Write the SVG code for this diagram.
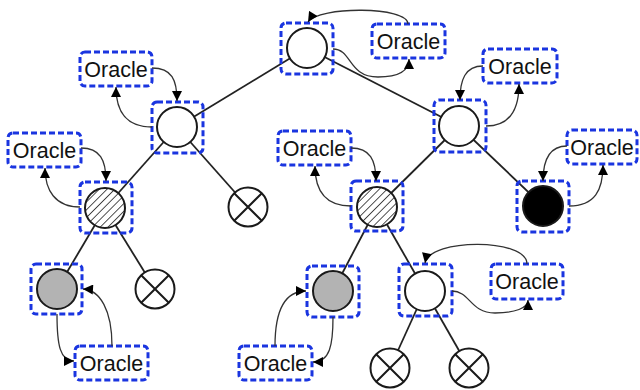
<svg xmlns="http://www.w3.org/2000/svg" width="640" height="390" viewBox="0 0 640 390">
<defs>
<style>
.edge{stroke:#222;stroke-width:1.8;fill:none}
.arc{stroke:#333;stroke-width:1.3;fill:none;marker-end:url(#ah)}
.box{fill:none;stroke:#1a35e0;stroke-width:3;stroke-dasharray:6 3}
.c{stroke:#1a1a1a;stroke-width:2;fill:#fff}
.x{stroke:#1a1a1a;stroke-width:2}
.gray{fill:#b3b3b3}
.black{fill:#000}
.hatch{fill:url(#hp)}
.lbl{font-family:"Liberation Sans",Arial,sans-serif;font-size:21.5px;fill:#111;text-anchor:middle}
</style>
<marker id="ah" viewBox="0 0 10 10" refX="10" refY="5" markerWidth="11" markerHeight="10" markerUnits="userSpaceOnUse" orient="auto">
<path d="M0,0 L10,5 L0,10 z" fill="#000"/>
</marker>
<pattern id="hp" patternUnits="userSpaceOnUse" width="5.5" height="5.5" patternTransform="rotate(45)">
<rect width="5.5" height="5.5" fill="#fff"/>
<line x1="0" y1="0" x2="0" y2="5.5" stroke="#333" stroke-width="1.7"/>
</pattern>
</defs>
<rect width="640" height="390" fill="#fff"/>

<g id="tree-edges">
<line class="edge" x1="307" y1="48" x2="177" y2="127"/>
<line class="edge" x1="307" y1="48" x2="459" y2="126"/>
<line class="edge" x1="177" y1="127" x2="105" y2="208"/>
<line class="edge" x1="177" y1="127" x2="248" y2="207"/>
<line class="edge" x1="105" y1="208" x2="57" y2="289"/>
<line class="edge" x1="105" y1="208" x2="155" y2="289"/>
<line class="edge" x1="459" y1="126" x2="377" y2="207"/>
<line class="edge" x1="459" y1="126" x2="543" y2="206"/>
<line class="edge" x1="377" y1="207" x2="333" y2="291"/>
<line class="edge" x1="377" y1="207" x2="425" y2="291"/>
<line class="edge" x1="425" y1="291" x2="390" y2="368"/>
<line class="edge" x1="425" y1="291" x2="469" y2="368"/>
</g>

<g id="n-root"><rect class="box" x="281" y="23" width="52" height="51" rx="5"/><circle class="c" cx="307" cy="48" r="20"/></g>
<g id="n-l1"><rect class="box" x="152" y="102" width="51" height="51" rx="5"/><circle class="c" cx="177" cy="127" r="20"/></g>
<g id="n-l1x"><circle class="c" cx="248" cy="207" r="19.5"/><path class="x" d="M234.2,193.2 L261.8,220.8 M261.8,193.2 L234.2,220.8"/></g>
<g id="n-l2h"><rect class="box" x="80" y="182" width="52" height="51" rx="5"/><circle class="c hatch" cx="105" cy="208" r="20"/></g>
<g id="n-l3g"><rect class="box" x="31" y="264" width="51" height="50" rx="5"/><circle class="c gray" cx="57" cy="289" r="20"/></g>
<g id="n-l3x"><circle class="c" cx="155" cy="289" r="19.5"/><path class="x" d="M141.2,275.2 L168.8,302.8 M168.8,275.2 L141.2,302.8"/></g>
<g id="n-r1"><rect class="box" x="434" y="100" width="52" height="52" rx="5"/><circle class="c" cx="459" cy="126" r="20"/></g>
<g id="n-r2b"><rect class="box" x="517" y="181" width="52" height="51" rx="5"/><circle class="c black" cx="543" cy="206" r="20"/></g>
<g id="n-m2h"><rect class="box" x="351" y="181" width="52" height="50" rx="5"/><circle class="c hatch" cx="377" cy="207" r="20"/></g>
<g id="n-m3g"><rect class="box" x="307" y="266" width="52" height="51" rx="5"/><circle class="c gray" cx="333" cy="291" r="20"/></g>
<g id="n-m3w"><rect class="box" x="399" y="264" width="53" height="52" rx="5"/><circle class="c" cx="425" cy="291" r="20"/></g>
<g id="n-m4x1"><circle class="c" cx="390" cy="368" r="19.5"/><path class="x" d="M376.2,354.2 L403.8,381.8 M403.8,354.2 L376.2,381.8"/></g>
<g id="n-m4x2"><circle class="c" cx="469" cy="368" r="19.5"/><path class="x" d="M455.2,354.2 L482.8,381.8 M482.8,354.2 L455.2,381.8"/></g>

<g id="o-root"><rect class="box" x="372" y="24" width="73" height="34" rx="5"/><text class="lbl" x="408.5" y="48.5">Oracle</text></g>
<g id="o-l1"><rect class="box" x="80" y="52" width="72" height="34" rx="5"/><text class="lbl" x="116" y="76.5">Oracle</text></g>
<g id="o-l2"><rect class="box" x="8" y="133" width="73" height="34" rx="5"/><text class="lbl" x="44.5" y="157.5">Oracle</text></g>
<g id="o-l3"><rect class="box" x="75" y="346" width="73" height="34" rx="5"/><text class="lbl" x="111.5" y="370.5">Oracle</text></g>
<g id="o-r1"><rect class="box" x="483" y="49" width="74" height="34" rx="5"/><text class="lbl" x="520" y="73.5">Oracle</text></g>
<g id="o-r2"><rect class="box" x="567" y="130" width="70" height="34" rx="5"/><text class="lbl" x="602" y="154.5">Oracle</text></g>
<g id="o-m2"><rect class="box" x="278" y="131" width="73" height="34" rx="5"/><text class="lbl" x="314.5" y="155.5">Oracle</text></g>
<g id="o-m3g"><rect class="box" x="239" y="346" width="73" height="34" rx="5"/><text class="lbl" x="275.5" y="370.5">Oracle</text></g>
<g id="o-m3w"><rect class="box" x="491" y="264" width="72" height="35" rx="5"/><text class="lbl" x="527" y="289">Oracle</text></g>

<g id="connectors">
<path class="arc" d="M408,24 C408,6 318,6 308,22"/>
<path class="arc" d="M333,49 C352,49 348,77 378,77 C400,77 409,70 409,59"/>
<path class="arc" d="M152,68 C172,68 177,80 177,101"/>
<path class="arc" d="M152,127 C125,127 116,110 116,87"/>
<path class="arc" d="M81,148 C100,148 106,160 106,181"/>
<path class="arc" d="M80,207 C55,207 45,190 45,168"/>
<path class="arc" d="M57,314 C57,345 60,361 74,361"/>
<path class="arc" d="M112,346 C112,310 100,290 83,289"/>
<path class="arc" d="M483,66 C465,66 460,80 460,100"/>
<path class="arc" d="M486,126 C510,126 519,110 519,84"/>
<path class="arc" d="M567,146 C550,146 543,160 543,181"/>
<path class="arc" d="M569,206 C595,206 603,190 603,165"/>
<path class="arc" d="M351,148 C370,148 376,160 376,181"/>
<path class="arc" d="M351,206 C325,206 315,190 315,166"/>
<path class="arc" d="M275,346 C275,310 285,291 306,291"/>
<path class="arc" d="M333,317 C333,345 330,362 313,362"/>
<path class="arc" d="M527,264 C527,238 430,238 425,263"/>
<path class="arc" d="M452,291 C470,291 470,313 495,313 C515,313 528,308 528,300"/>
</g>
</svg>
